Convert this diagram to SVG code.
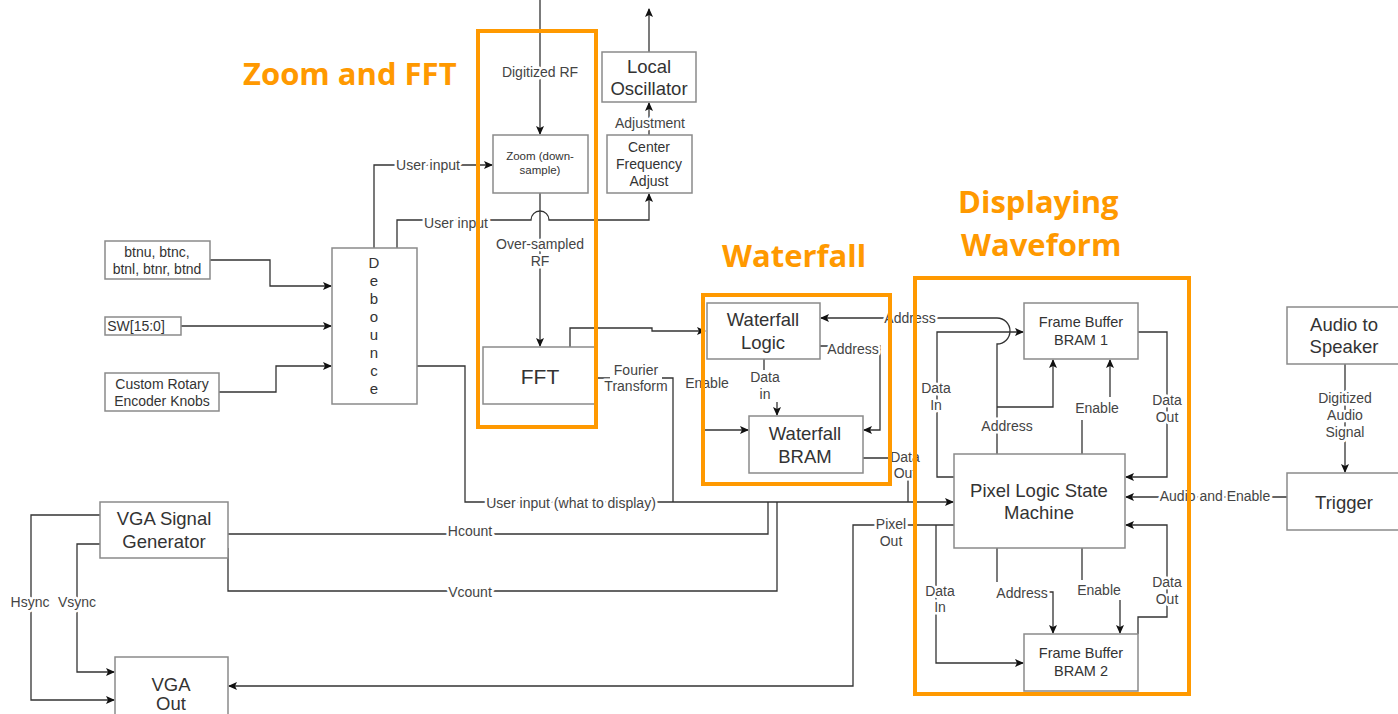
<svg xmlns="http://www.w3.org/2000/svg" width="1398" height="714" viewBox="0 0 1398 714">
<style>
.box{fill:#fff;stroke:#8a8a8a;stroke-width:1.5}
.c{fill:none;stroke:#333;stroke-width:1.3}
.org{fill:none;stroke:#F90;stroke-width:4}
text{font-family:"Liberation Sans",Arial,sans-serif;fill:#333;text-anchor:middle;dominant-baseline:central}
.lbl{font-size:14px;fill:#444;stroke:#fff;stroke-width:5;paint-order:stroke;stroke-linejoin:round}
.t18{font-size:18.5px}
.t14{font-size:14px}
.ttl{font-family:"Open Sans",sans-serif;font-weight:bold;font-size:31px;fill:#F90;text-anchor:start;dominant-baseline:auto}
</style>
<defs>
<marker id="a" markerUnits="userSpaceOnUse" markerWidth="9" markerHeight="8" refX="8" refY="4" orient="auto">
<path d="M0,0 L9,4 L0,8 L2,4 z" fill="#111"/>
</marker>
</defs>

<g id="connectors">
<path class="c" d="M540 0 V134" marker-end="url(#a)"/>
<path class="c" d="M649 52 V9" marker-end="url(#a)"/>
<path class="c" d="M649 135 V103" marker-end="url(#a)"/>
<path class="c" d="M374 248 V165 H492" marker-end="url(#a)"/>
<path class="c" d="M397 248 V220 H531 A9 9 0 0 1 549 220 H649 V194" marker-end="url(#a)"/>
<path class="c" d="M540 193 V346" marker-end="url(#a)"/>
<path class="c" d="M570 347 V328 H652 V331 H705" marker-end="url(#a)"/>
<path class="c" d="M597 378 H610 M662 378 H673 V502"/>
<path class="c" d="M705 430 H748" marker-end="url(#a)"/>
<path class="c" d="M210 260 H270 V286 H331" marker-end="url(#a)"/>
<path class="c" d="M181 326 H331" marker-end="url(#a)"/>
<path class="c" d="M219 392 H276 V366 H331" marker-end="url(#a)"/>
<path class="c" d="M417 366 H465 V502 H953" marker-end="url(#a)"/>
<path class="c" d="M764 359 V370"/>
<path class="c" d="M777 402 V415" marker-end="url(#a)"/>
<path class="c" d="M820 346 H880 V430 H864" marker-end="url(#a)"/>
<path class="c" d="M863 458 H890 M908 480 V502"/>
<path class="c" d="M997 454 V344 A13 13 0 0 0 997 318 H821" marker-end="url(#a)"/>
<path class="c" d="M997 407 H1053 V360" marker-end="url(#a)"/>
<path class="c" d="M954 477 H937 V332 H1023" marker-end="url(#a)"/>
<path class="c" d="M1082 454 V420"/>
<path class="c" d="M1110 397 V360" marker-end="url(#a)"/>
<path class="c" d="M1138 332 H1167 V477 H1126" marker-end="url(#a)"/>
<path class="c" d="M1287 497 H1126" marker-end="url(#a)"/>
<path class="c" d="M1138 634 V617 H1167 V525 H1126" marker-end="url(#a)"/>
<path class="c" d="M997 548 V582"/>
<path class="c" d="M1048 592 H1053 V633" marker-end="url(#a)"/>
<path class="c" d="M1082 548 V580"/>
<path class="c" d="M1120 600 V633" marker-end="url(#a)"/>
<path class="c" d="M954 525 H853 V686 H229" marker-end="url(#a)"/>
<path class="c" d="M936 525 V663 H1023" marker-end="url(#a)"/>
<path class="c" d="M1345 364 V472" marker-end="url(#a)"/>
<path class="c" d="M228 534 H768 V502"/>
<path class="c" d="M228 548 V591 H777 V502"/>
<path class="c" d="M100 515 H31 V700 H114" marker-end="url(#a)"/>
<path class="c" d="M100 544 H77 V672 H114" marker-end="url(#a)"/>
</g>

<g id="labels">
<text class="lbl" x="540" y="72">Digitized RF</text>
<text class="lbl" x="650" y="123">Adjustment</text>
<text class="lbl" x="428" y="165">User input</text>
<text class="lbl" x="456" y="223">User input</text>
<text class="lbl" x="540" y="244">Over-sampled</text>
<text class="lbl" x="540" y="261">RF</text>
<text class="lbl" x="636" y="370">Fourier</text>
<text class="lbl" x="636" y="386">Transform</text>
<text class="lbl" x="707" y="383">Enable</text>
<text class="lbl" x="571" y="503">User input (what to display)</text>
<text class="lbl" x="765" y="377">Data</text>
<text class="lbl" x="765" y="394">in</text>
<text class="lbl" x="853" y="349">Address</text>
<text class="lbl" x="910" y="318">Address</text>
<text class="lbl" x="905" y="457">Data</text>
<text class="lbl" x="905" y="473">Out</text>
<text class="lbl" x="936" y="388">Data</text>
<text class="lbl" x="936" y="405">In</text>
<text class="lbl" x="1007" y="426">Address</text>
<text class="lbl" x="1097" y="408">Enable</text>
<text class="lbl" x="1167" y="400">Data</text>
<text class="lbl" x="1167" y="417">Out</text>
<text class="lbl" x="1215" y="496">Audio and Enable</text>
<text class="lbl" x="1167" y="582">Data</text>
<text class="lbl" x="1167" y="599">Out</text>
<text class="lbl" x="1022" y="593">Address</text>
<text class="lbl" x="1099" y="590">Enable</text>
<text class="lbl" x="940" y="591">Data</text>
<text class="lbl" x="940" y="607">In</text>
<text class="lbl" x="891" y="524">Pixel</text>
<text class="lbl" x="891" y="541">Out</text>
<text class="lbl" x="1345" y="398">Digitized</text>
<text class="lbl" x="1345" y="415">Audio</text>
<text class="lbl" x="1345" y="432">Signal</text>
<text class="lbl" x="470" y="531">Hcount</text>
<text class="lbl" x="470" y="592">Vcount</text>
<text class="lbl" x="30" y="602">Hsync</text>
<text class="lbl" x="77" y="602">Vsync</text>
</g>

<g id="local-oscillator"><rect class="box" x="602" y="52" width="94" height="50"/><text class="t18" x="649" y="66">Local</text><text class="t18" x="649" y="88">Oscillator</text></g>
<g id="zoom"><rect class="box" x="493" y="135" width="95" height="58"/><text x="540" y="156" style="font-size:11.5px">Zoom (down-</text><text x="540" y="170" style="font-size:11.5px">sample)</text></g>
<g id="center-freq"><rect class="box" x="607" y="135" width="85" height="58"/><text class="t14" x="649" y="147">Center</text><text class="t14" x="649" y="164">Frequency</text><text class="t14" x="649" y="181">Adjust</text></g>
<g id="fft"><rect class="box" x="483" y="347" width="114" height="57"/><text x="540" y="376" style="font-size:21px">FFT</text></g>
<g id="debounce"><rect class="box" x="332" y="248" width="85" height="156"/>
<text x="374" y="262" style="font-size:15px">D</text><text x="374" y="280" style="font-size:15px">e</text><text x="374" y="298" style="font-size:15px">b</text><text x="374" y="316" style="font-size:15px">o</text><text x="374" y="334" style="font-size:15px">u</text><text x="374" y="352" style="font-size:15px">n</text><text x="374" y="370" style="font-size:15px">c</text><text x="374" y="388" style="font-size:15px">e</text></g>
<g id="buttons"><rect class="box" x="105" y="241" width="105" height="38"/><text class="t14" x="157" y="252">btnu, btnc,</text><text class="t14" x="157" y="269">btnl, btnr, btnd</text></g>
<g id="switches"><rect class="box" x="105" y="317" width="76" height="18"/><text class="t14" x="136" y="326">SW[15:0]</text></g>
<g id="rotary"><rect class="box" x="105" y="373" width="114" height="38"/><text class="t14" x="162" y="384">Custom Rotary</text><text class="t14" x="162" y="401">Encoder Knobs</text></g>
<g id="waterfall-logic"><rect class="box" x="707" y="303" width="113" height="56"/><text class="t18" x="763" y="319">Waterfall</text><text class="t18" x="763" y="342">Logic</text></g>
<g id="waterfall-bram"><rect class="box" x="749" y="416" width="114" height="57"/><text class="t18" x="805" y="433">Waterfall</text><text class="t18" x="805" y="456">BRAM</text></g>
<g id="fb1"><rect class="box" x="1024" y="303" width="114" height="56"/><text x="1081" y="322" style="font-size:14.5px">Frame Buffer</text><text x="1081" y="340" style="font-size:14.5px">BRAM 1</text></g>
<g id="pixel-logic"><rect class="box" x="954" y="454" width="171" height="94"/><text class="t18" x="1039" y="490">Pixel Logic State</text><text class="t18" x="1039" y="512">Machine</text></g>
<g id="fb2"><rect class="box" x="1024" y="634" width="114" height="57"/><text x="1081" y="653" style="font-size:14.5px">Frame Buffer</text><text x="1081" y="671" style="font-size:14.5px">BRAM 2</text></g>
<g id="audio-speaker"><rect class="box" x="1287" y="307" width="114" height="57"/><text class="t18" x="1344" y="324">Audio to</text><text class="t18" x="1344" y="346">Speaker</text></g>
<g id="trigger"><rect class="box" x="1287" y="473" width="114" height="57"/><text class="t18" x="1344" y="502">Trigger</text></g>
<g id="vga-gen"><rect class="box" x="100" y="502" width="128" height="56"/><text class="t18" x="164" y="518">VGA Signal</text><text class="t18" x="164" y="541">Generator</text></g>
<g id="vga-out"><rect class="box" x="115" y="657" width="113" height="70"/><text class="t18" x="171" y="684">VGA</text><text class="t18" x="171" y="703">Out</text></g>

<g id="groups">
<rect class="org" x="478" y="31" width="118" height="396"/>
<rect class="org" x="703" y="295" width="187" height="189"/>
<rect class="org" x="915" y="278" width="274" height="416"/>
<text class="ttl" x="243" y="85">Zoom and FFT</text>
<text class="ttl" x="722" y="267">Waterfall</text>
<text class="ttl" x="958" y="213">Displaying</text>
<text class="ttl" x="961" y="256">Waveform</text>
</g>
</svg>
